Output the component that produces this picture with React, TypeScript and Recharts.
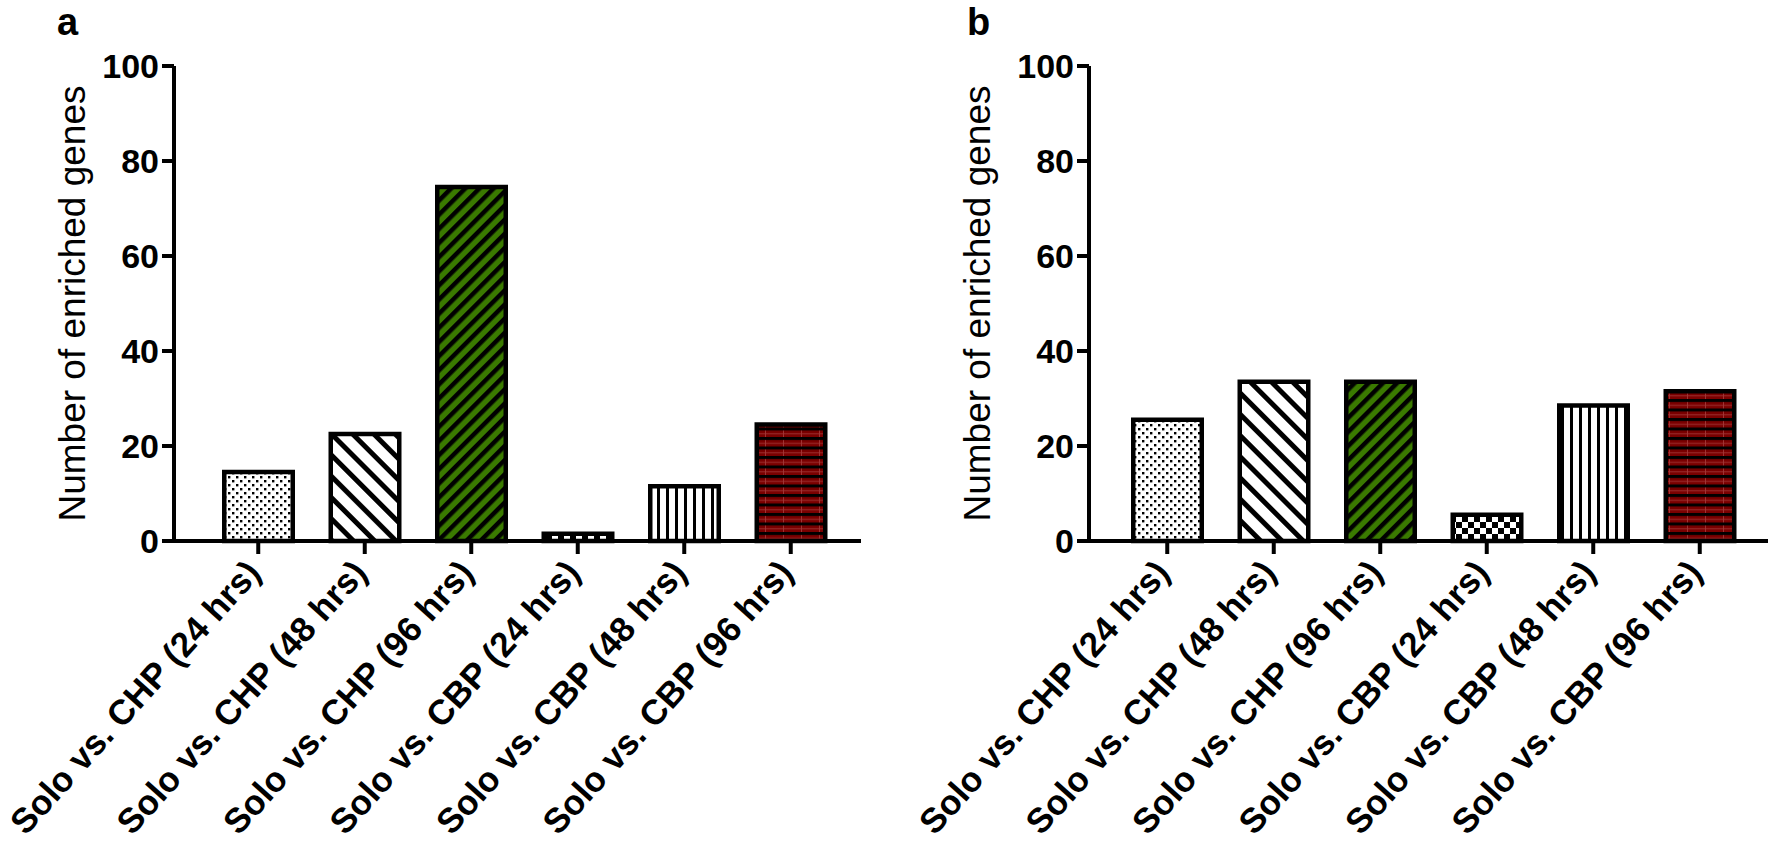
import { Bar, BarChart, Cell, XAxis, YAxis } from "recharts";

const categories = [
  "Solo vs. CHP (24 hrs)",
  "Solo vs. CHP (48 hrs)",
  "Solo vs. CHP (96 hrs)",
  "Solo vs. CBP (24 hrs)",
  "Solo vs. CBP (48 hrs)",
  "Solo vs. CBP (96 hrs)",
];
const genesA = [15, 23, 75, 2, 12, 25];
const genesB = [26, 34, 34, 6, 29, 32];
const yTicks = [0, 20, 40, 60, 80, 100];
const fills = [
  "url(#pDots)",
  "url(#pBack)",
  "url(#pGreen)",
  "url(#pChecker)",
  "url(#pVert)",
  "url(#pRed)",
];

const FONT = "'Liberation Sans', Arial, sans-serif";
const SW = 4.5; // bar border

// border drawn inside the bar so the outer edge sits on the value
function InsetBar(props: any) {
  const { x, y, width, height, fill } = props;
  if (!height || height <= 0) return null;
  return (
    <rect
      x={x + SW / 2}
      y={y + SW / 2}
      width={width - SW}
      height={Math.max(height - SW / 2, 0)}
      fill={fill}
      stroke="#000"
      strokeWidth={SW}
    />
  );
}

function XTick(props: any) {
  const { x, y, payload } = props;
  const ax = x + 4;
  const ay = y + 18;
  return (
    <text
      x={ax}
      y={ay}
      transform={`rotate(-48 ${ax} ${ay})`}
      textAnchor="end"
      fontFamily={FONT}
      fontWeight="bold"
      fontSize={35}
      fill="#000"
    >
      {payload.value}
    </text>
  );
}

function YTick(props: any) {
  const { x, y, payload } = props;
  return (
    <text
      x={x}
      y={y}
      dy={12}
      textAnchor="end"
      fontFamily={FONT}
      fontWeight="bold"
      fontSize={34}
      fill="#000"
    >
      {payload.value}
    </text>
  );
}

function Patterns() {
  return (
    <svg width={0} height={0} style={{ position: "absolute" }}>
      <defs>
        <pattern id="pDots" width={8} height={8} patternUnits="userSpaceOnUse">
          <rect width={8} height={8} fill="#fff" />
          <rect x={0} y={0} width={2.4} height={2.4} fill="#000" />
          <rect x={4} y={4} width={2.4} height={2.4} fill="#000" />
        </pattern>
        <pattern
          id="pBack"
          width={15}
          height={15}
          patternUnits="userSpaceOnUse"
          patternTransform="rotate(-45)"
        >
          <rect width={15} height={15} fill="#fff" />
          <rect x={0} y={0} width={5} height={15} fill="#000" />
        </pattern>
        <pattern
          id="pGreen"
          width={10}
          height={10}
          patternUnits="userSpaceOnUse"
          patternTransform="rotate(45)"
        >
          <rect width={10} height={10} fill="#3a7a00" />
          <rect x={0} y={0} width={4.5} height={10} fill="#000" />
        </pattern>
        <pattern id="pChecker" width={12} height={12} patternUnits="userSpaceOnUse">
          <rect width={12} height={12} fill="#fff" />
          <rect x={0} y={0} width={6} height={6} fill="#000" />
          <rect x={6} y={6} width={6} height={6} fill="#000" />
        </pattern>
        <pattern id="pVert" width={9} height={9} patternUnits="userSpaceOnUse">
          <rect width={9} height={9} fill="#fff" />
          <rect x={0} y={0} width={3} height={9} fill="#000" />
        </pattern>
        <pattern id="pRed" width={18} height={9.5} patternUnits="userSpaceOnUse">
          <rect width={18} height={9.5} fill="#7a0000" />
          <rect x={0} y={0} width={18} height={3} fill="#000" />
          <rect x={9} y={3} width={0.8} height={6.5} fill="#a84040" />
          <rect x={0} y={6} width={18} height={0.8} fill="#a03838" />
        </pattern>
      </defs>
    </svg>
  );
}

type PanelProps = {
  values: number[];
  width: number;
  left: number;
  yAxisWidth: number;
  marginRight: number;
  padLeft: number;
  padRight: number;
  labelX: number;
};

function Panel({ values, width, left, yAxisWidth, marginRight, padLeft, padRight, labelX }: PanelProps) {
  const data = categories.map((name, i) => ({ name, genes: values[i] }));
  return (
    <div style={{ position: "absolute", left, top: 0 }}>
      <BarChart
        width={width}
        height={849}
        data={data}
        margin={{ top: 66, right: marginRight, left: 0, bottom: 0 }}
        barSize={73}
      >
        <XAxis
          dataKey="name"
          height={308}
          interval={0}
          padding={{ left: padLeft, right: padRight }}
          axisLine={{ stroke: "#000", strokeWidth: 4 }}
          tickLine={{ stroke: "#000", strokeWidth: 4 }}
          tickSize={13}
          tick={<XTick />}
        />
        <YAxis
          width={yAxisWidth}
          domain={[0, 100]}
          ticks={yTicks}
          interval={0}
          axisLine={{ stroke: "#000", strokeWidth: 4 }}
          tickLine={{ stroke: "#000", strokeWidth: 4 }}
          tickSize={12}
          tickMargin={3}
          tick={<YTick />}
          label={(p: any) => {
            const vb = p.viewBox;
            const cy = vb.y + vb.height / 2;
            return (
              <text
                x={labelX}
                y={cy}
                transform={`rotate(-90 ${labelX} ${cy})`}
                textAnchor="middle"
                fontFamily={FONT}
                fontSize={37}
                fill="#000"
              >
                Number of enriched genes
              </text>
            );
          }}
        />
        <Bar dataKey="genes" shape={<InsetBar />} isAnimationActive={false}>
          {data.map((_, i) => (
            <Cell key={i} fill={fills[i]} />
          ))}
        </Bar>
      </BarChart>
    </div>
  );
}

export default function App() {
  return (
    <div
      style={{
        position: "absolute",
        left: 0,
        top: 0,
        width: 1773,
        height: 849,
        background: "#fff",
        overflow: "hidden",
      }}
    >
      <Patterns />
      <Panel
        values={genesA}
        width={886}
        left={0}
        yAxisWidth={174}
        marginRight={25}
        padLeft={31}
        padRight={17}
        labelX={85}
      />
      <Panel
        values={genesB}
        width={887}
        left={886}
        yAxisWidth={203}
        marginRight={5}
        padLeft={25}
        padRight={15}
        labelX={104}
      />
      <div
        style={{
          position: "absolute",
          left: 57,
          top: 1,
          fontFamily: FONT,
          fontWeight: "bold",
          fontSize: 38,
          lineHeight: "42px",
        }}
      >
        a
      </div>
      <div
        style={{
          position: "absolute",
          left: 967,
          top: 1,
          fontFamily: FONT,
          fontWeight: "bold",
          fontSize: 38,
          lineHeight: "42px",
        }}
      >
        b
      </div>
    </div>
  );
}
